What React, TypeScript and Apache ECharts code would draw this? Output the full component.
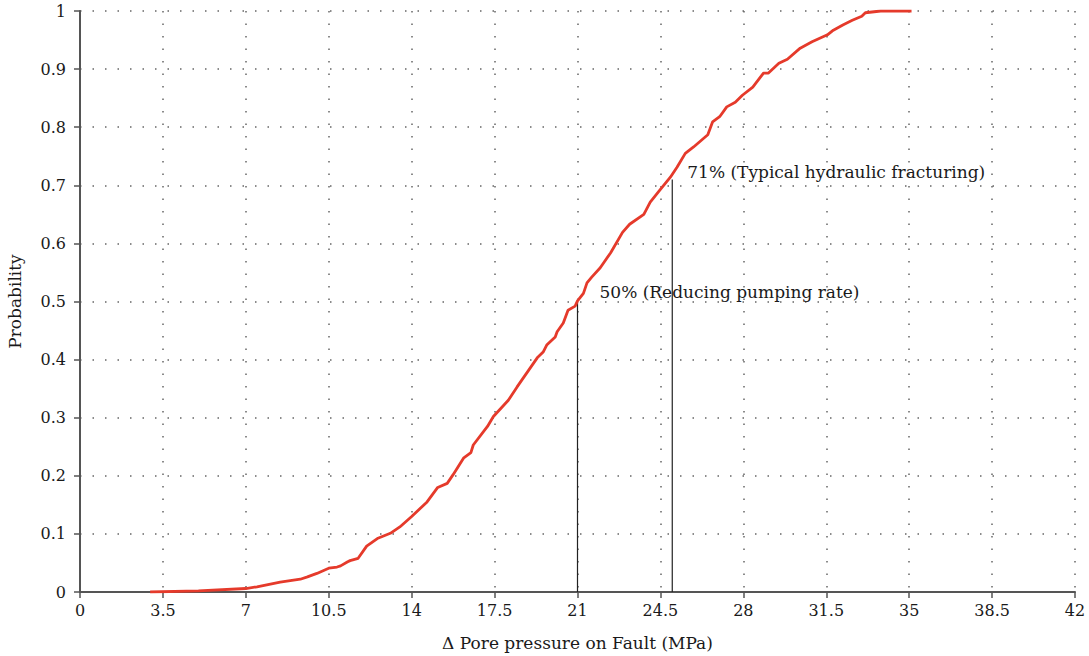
import React, { useEffect, useRef } from "react";
import * as echarts from "echarts";

const xTicks = [0, 3.5, 7, 10.5, 14, 17.5, 21, 24.5, 28, 31.5, 35, 38.5, 42];
const curveX = [
  2.96, 5.0, 7.0, 7.47, 8.45, 9.3, 9.6, 10.0, 10.5, 10.85, 11.0, 11.3, 11.4, 11.74, 12.1, 12.55, 13.1, 13.5,
  14.0, 14.65, 15.1, 15.5, 15.75, 16.2, 16.5, 16.6, 17.2, 17.45, 18.08, 18.45, 19.3, 19.55, 19.7, 20.06, 20.14,
  20.4, 20.6, 20.9, 21.0, 21.25, 21.4, 21.6, 21.96, 22.4, 22.9, 23.2, 23.8, 24.07, 24.5, 24.92, 25.2, 25.55,
  25.9, 26.5, 26.7, 27.0, 27.3, 27.66, 27.96, 28.4, 28.85, 29.05, 29.5, 29.86, 30.4, 30.9, 31.55, 31.8, 32.2,
  32.6, 33.0, 33.15, 33.8, 35.1,
];
const curveY = [
  0, 0.002, 0.006, 0.009, 0.017, 0.022, 0.026, 0.032, 0.041, 0.043, 0.045, 0.052, 0.054, 0.058, 0.079, 0.092, 0.101, 0.112,
  0.13, 0.155, 0.18, 0.187, 0.202, 0.231, 0.24, 0.253, 0.285, 0.302, 0.33, 0.353, 0.403, 0.413, 0.425, 0.439, 0.448,
  0.463, 0.485, 0.492, 0.501, 0.514, 0.532, 0.542, 0.558, 0.584, 0.619, 0.633, 0.65, 0.671, 0.693, 0.714, 0.731, 0.755,
  0.766, 0.787, 0.809, 0.818, 0.835, 0.843, 0.855, 0.869, 0.893, 0.893, 0.91, 0.917, 0.936, 0.947, 0.959, 0.967, 0.976,
  0.984, 0.991, 0.997, 1.0, 1.0,
];
const markerX = [21, 25];
const markerY = [0.5, 0.71];
const markerLabels = ["50% (Reducing pumping rate)", "71% (Typical hydraulic fracturing)"];

const FONT = "DejaVu Serif";

export default function App() {
  const ref = useRef<HTMLDivElement>(null);
  useEffect(() => {
    if (!ref.current) return;
    const chart = echarts.init(ref.current, undefined, { renderer: "svg" });
    const curve = curveX.map((x, i) => [x, curveY[i]]);
    const markerSeries = markerX.map((x, i) => ({
      type: "line",
      data: [[x, 0], [x, markerY[i]]],
      showSymbol: false,
      symbol: "none",
      lineStyle: { color: "#222", width: 1.2 },
      z: 3,
      endLabel: {
        show: true,
        formatter: markerLabels[i],
        fontFamily: FONT,
        fontSize: 17,
        color: "#1a1a1a",
        distance: i === 0 ? 22 : 15,
        offset: [0, i === 0 ? -10 : -7],
        align: "left",
      },
    }));
    chart.setOption({
      animation: false,
      textStyle: { fontFamily: FONT },
      grid: { left: 80, right: 14, top: 11, bottom: 64, containLabel: false, outerBoundsMode: "none" },
      xAxis: {
        type: "value",
        min: 0,
        max: 42,
        interval: 3.5,
        name: "Δ Pore pressure on Fault (MPa)",
        nameLocation: "middle",
        nameGap: 42,
        nameTextStyle: { fontFamily: FONT, fontSize: 17, color: "#1a1a1a" },
        axisLine: { show: true, onZero: false, lineStyle: { color: "#555", width: 2 } },
        axisTick: { show: true, length: 6, lineStyle: { color: "#555", width: 1.5 } },
        axisLabel: { fontFamily: FONT, fontSize: 16, color: "#1a1a1a", margin: 10, formatter: (v: number) => String(v) },
        splitLine: { show: true, lineStyle: { color: "#666", width: 1.5, type: [1.5, 11] } },
      },
      yAxis: {
        type: "value",
        min: 0,
        max: 1,
        interval: 0.1,
        name: "Probability",
        nameLocation: "middle",
        nameGap: 57,
        nameTextStyle: { fontFamily: FONT, fontSize: 17, color: "#1a1a1a" },
        axisLine: { show: true, lineStyle: { color: "#555", width: 2 } },
        axisTick: { show: true, length: 6, lineStyle: { color: "#555", width: 1.5 } },
        axisLabel: {
          fontFamily: FONT,
          fontSize: 16,
          color: "#1a1a1a",
          margin: 14,
          formatter: (v: number) => String(Math.round(v * 10) / 10),
        },
        splitLine: { show: true, lineStyle: { color: "#666", width: 1.5, type: [1.5, 11] } },
      },
      series: [
        {
          type: "line",
          data: curve,
          showSymbol: false,
          symbol: "none",
          smooth: false,
          lineStyle: { color: "#e53a2b", width: 2.8 },
          z: 4,
        },
        ...markerSeries,
      ],
    });
    return () => chart.dispose();
  }, []);
  return <div ref={ref} style={{ width: 1089, height: 656, position: "absolute", left: 0, top: 0 }} />;
}
